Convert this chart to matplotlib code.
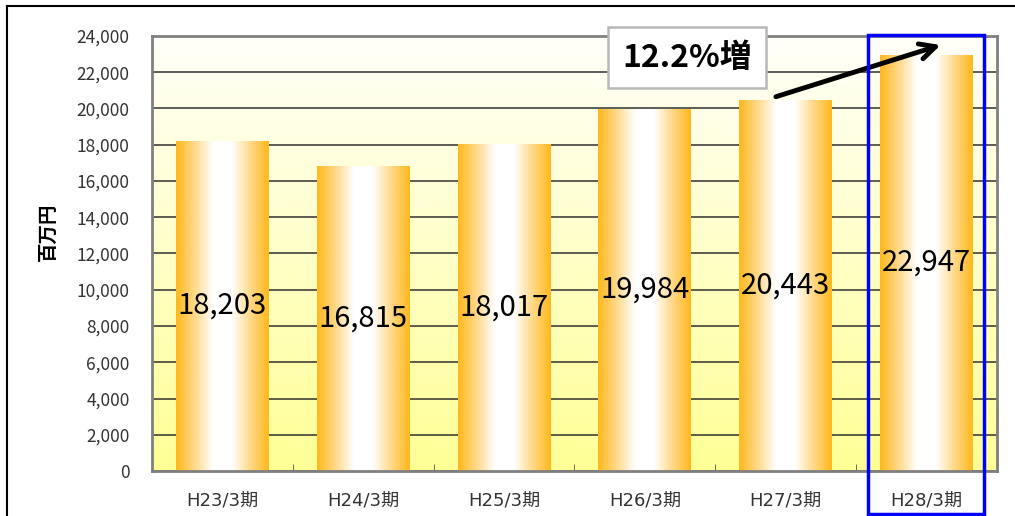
import numpy as np
import matplotlib
matplotlib.use("Agg")
import matplotlib.pyplot as plt
import matplotlib.transforms as mtransforms
from matplotlib.colors import LinearSegmentedColormap
from matplotlib.patches import Rectangle
from matplotlib.lines import Line2D

plt.rcParams['font.family'] = ['Noto Sans CJK JP', 'DejaVu Sans']

# data
periods = ['H23/3期', 'H24/3期', 'H25/3期', 'H26/3期', 'H27/3期', 'H28/3期']
sales = [18203, 16815, 18017, 19984, 20443, 22947]
y_ticks = list(range(0, 24001, 2000))
growth_label = '12.2%増'

W, H = 1015, 516
fig = plt.figure(figsize=(W / 100, H / 100), dpi=100)
ax = fig.add_axes([152 / W, 1 - 471 / H, 845 / W, 435 / H])

x = np.arange(len(periods))

# background gradient (white at top, pale yellow at bottom)
bg_cmap = LinearSegmentedColormap.from_list('bg', ['#ffff96', '#fffffa'])
bg = np.linspace(0, 1, 256).reshape(-1, 1)
ax.imshow(bg, extent=[-0.5, len(periods) - 0.5, 0, 24000], origin='lower',
          aspect='auto', cmap=bg_cmap, zorder=0)

# bars with horizontal orange-white-orange gradient
bar_cmap = LinearSegmentedColormap.from_list(
    'bar', ['#ffb81c', '#ffd98a', '#ffffff', '#ffffff', '#ffd98a', '#ffb81c'])
grad = np.linspace(0, 1, 256).reshape(1, -1)
bw = 0.66
bars = ax.bar(x, sales, width=bw, color='none', edgecolor='none', zorder=2)
for i, b in enumerate(bars):
    im = ax.imshow(grad, extent=[x[i] - bw / 2, x[i] + bw / 2, 0, sales[i]],
                   aspect='auto', cmap=bar_cmap, zorder=2)
    im.set_clip_path(b)
    ax.text(x[i], sales[i] / 2, f'{sales[i]:,}', ha='center', va='center',
            fontsize=21, color='black', zorder=4)

ax.set_xlim(-0.5, len(periods) - 0.5)
ax.set_ylim(0, 24000)
ax.set_yticks(y_ticks)
ax.set_yticklabels([f'{t:,}' for t in y_ticks], fontsize=12.5, color='#333333')
ax.set_xticks(x)
ax.set_xticklabels(periods, fontsize=13, color='#333333',
                   family=['DejaVu Sans', 'Noto Sans CJK JP'])
ax.set_xticks(np.arange(len(periods) + 1) - 0.5, minor=True)
ax.tick_params(axis='y', length=0, pad=16)
ax.tick_params(axis='x', which='major', length=0, pad=15)
ax.tick_params(axis='x', which='minor', direction='in', length=5, color='#555555')
ax.grid(axis='y', color='#303030', lw=1.1)
ax.set_axisbelow(True)
for s in ax.spines.values():
    s.set_color('#808080')
    s.set_linewidth(2)

fig.text(48 / W, 1 - 232 / H, '百万円', rotation=90, ha='center', va='center',
         fontsize=14, fontweight='bold')

# growth annotation
ax.annotate('', xy=(5.10, 23500), xytext=(3.93, 20650),
            arrowprops=dict(arrowstyle='->', lw=3.5, color='black',
                            mutation_scale=28, shrinkA=0, shrinkB=0),
            zorder=6, annotation_clip=False)
ax.text(3.30, 22800, growth_label, ha='center', va='center', fontsize=23,
        fontweight='bold', zorder=7, clip_on=False,
        bbox=dict(boxstyle='square,pad=0.45', fc='white', ec='#b8b8b8', lw=1.8))

# blue highlight around last period
trans = mtransforms.blended_transform_factory(ax.transData, ax.transAxes)
ax.add_patch(Rectangle((4.585, -0.099), 0.823, 1.101, transform=trans,
                       fill=False, ec='#0000ff', lw=2.5, clip_on=False, zorder=10))

# page frame lines
fig.add_artist(Line2D([7 / W, 1], [1 - 6 / H, 1 - 6 / H], color='black', lw=1.5))
fig.add_artist(Line2D([7 / W, 7 / W], [0, 1 - 6 / H], color='black', lw=1.5))

fig.savefig('out.png', dpi=100)
